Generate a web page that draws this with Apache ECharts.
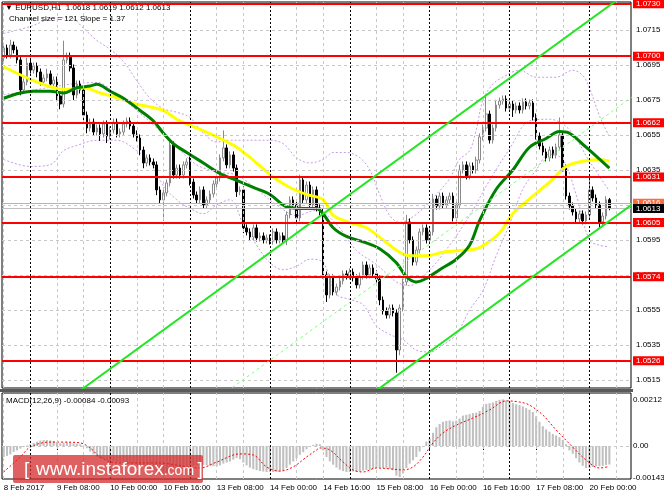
<!DOCTYPE html>
<html>
<head>
  <meta charset="UTF-8" />
  <title>EURUSD,H1</title>
  <script src="https://cdn.jsdelivr.net/npm/echarts@6/dist/echarts.min.js"></script>
  <style>
    html, body { margin: 0; padding: 0; background: #fff; }
    #chart { width: 664px; height: 498px; }
  </style>
</head>
<body>
  <div id="chart"></div>
  <script>
    const FONT = 'Liberation Sans, Arial, sans-serif';
    const SLOTS = 189;       // bar slots on the time axis (incl. right shift)
    const PIP = 0.0001;

    // time axis
    const tickIdx = [0, 16, 32, 48, 64, 80, 96, 112, 128, 144, 160, 176];
    const tickText = ['8 Feb 2017', '9 Feb 08:00', '10 Feb 00:00', '10 Feb 16:00', '13 Feb 08:00', '14 Feb 00:00',
                      '14 Feb 16:00', '15 Feb 08:00', '16 Feb 00:00', '16 Feb 16:00', '17 Feb 08:00', '20 Feb 00:00'];
    const daySepIdx = [8, 32, 56, 80, 104, 128, 152, 176];
    const gridIdx = [0, 16, 24, 40, 48, 64, 72, 88, 96, 112, 120, 136, 144, 160, 168, 184];

    // price axis
    const priceMin = 1.05104, priceMax = 1.07310;
    const priceTicks = [1.0515, 1.0535, 1.0555, 1.0575, 1.0595, 1.0615, 1.0635, 1.0655, 1.0675, 1.0695, 1.0715];
    const redLevels = [1.0730, 1.0700, 1.0662, 1.0631, 1.0605, 1.0574, 1.0526];
    const openLevel = 1.0616;
    const lastPrice = 1.0613;

    // H1 candles
    const opens = [
      1.06990, 1.07047, 1.07007, 1.07064, 1.07036, 1.06979, 1.06807, 1.06853, 1.06961, 1.06921,
      1.06944, 1.06910, 1.06853, 1.06876, 1.06899, 1.06841, 1.06864, 1.06773, 1.06727, 1.06979,
      1.07001, 1.06933, 1.06779, 1.06841, 1.06807, 1.06664, 1.06590, 1.06624, 1.06567, 1.06590,
      1.06556, 1.06613, 1.06544, 1.06579, 1.06624, 1.06556, 1.06567, 1.06613, 1.06630, 1.06601,
      1.06556, 1.06533, 1.06464, 1.06390, 1.06419, 1.06396, 1.06379, 1.06236, 1.06179, 1.06219,
      1.06276, 1.06493, 1.06321, 1.06361, 1.06321, 1.06379, 1.06396, 1.06281, 1.06207, 1.06179,
      1.06236, 1.06150, 1.06179, 1.06213, 1.06270, 1.06304, 1.06419, 1.06476, 1.06379, 1.06436,
      1.06361, 1.06226, 1.06236, 1.06019, 1.05996, 1.05967, 1.06019, 1.05961, 1.05973, 1.05950,
      1.05961, 1.05944, 1.05996, 1.05950, 1.05973, 1.05950, 1.06093, 1.06179, 1.06150, 1.06076,
      1.06293, 1.06179, 1.06264, 1.06150, 1.06236, 1.06133, 1.06110, 1.05750, 1.05636, 1.05733,
      1.05653, 1.05681, 1.05716, 1.05756, 1.05744, 1.05767, 1.05733, 1.05693, 1.05744, 1.05807,
      1.05750, 1.05790, 1.05756, 1.05727, 1.05607, 1.05544, 1.05521, 1.05561, 1.05533, 1.05321,
      1.05561, 1.05710, 1.06053, 1.05950, 1.05824, 1.05893, 1.05996, 1.06019, 1.05950, 1.05996,
      1.06184, 1.06144, 1.06201, 1.06150, 1.06179, 1.06201, 1.06076, 1.06150, 1.06350, 1.06379,
      1.06316, 1.06373, 1.06350, 1.06407, 1.06539, 1.06590, 1.06670, 1.06521, 1.06590, 1.06721,
      1.06744, 1.06756, 1.06704, 1.06727, 1.06693, 1.06716, 1.06693, 1.06739, 1.06716, 1.06733,
      1.06653, 1.06544, 1.06487, 1.06453, 1.06419, 1.06464, 1.06436, 1.06481, 1.06550, 1.06361,
      1.06201, 1.06144, 1.06110, 1.06070, 1.06099, 1.06059, 1.06093, 1.06236, 1.06190, 1.06150,
      1.06053, 1.06087, 1.06180
    ];
    const closes = [
      1.07047, 1.07007, 1.07064, 1.07036, 1.06979, 1.06807, 1.06853, 1.06961, 1.06921, 1.06944,
      1.06910, 1.06853, 1.06876, 1.06899, 1.06841, 1.06864, 1.06773, 1.06727, 1.06979, 1.07001,
      1.06933, 1.06779, 1.06841, 1.06807, 1.06664, 1.06590, 1.06624, 1.06567, 1.06590, 1.06556,
      1.06613, 1.06544, 1.06579, 1.06624, 1.06556, 1.06567, 1.06613, 1.06630, 1.06601, 1.06556,
      1.06533, 1.06464, 1.06390, 1.06419, 1.06396, 1.06379, 1.06236, 1.06179, 1.06219, 1.06276,
      1.06493, 1.06321, 1.06361, 1.06321, 1.06379, 1.06396, 1.06281, 1.06207, 1.06179, 1.06236,
      1.06150, 1.06179, 1.06213, 1.06270, 1.06304, 1.06419, 1.06476, 1.06379, 1.06436, 1.06361,
      1.06226, 1.06236, 1.06019, 1.05996, 1.05967, 1.06019, 1.05961, 1.05973, 1.05950, 1.05961,
      1.05944, 1.05996, 1.05950, 1.05973, 1.05950, 1.06093, 1.06179, 1.06150, 1.06076, 1.06293,
      1.06179, 1.06264, 1.06150, 1.06236, 1.06133, 1.06110, 1.05750, 1.05636, 1.05733, 1.05653,
      1.05681, 1.05716, 1.05756, 1.05744, 1.05767, 1.05733, 1.05693, 1.05744, 1.05807, 1.05750,
      1.05790, 1.05756, 1.05727, 1.05607, 1.05544, 1.05521, 1.05561, 1.05533, 1.05321, 1.05561,
      1.05710, 1.06053, 1.05950, 1.05824, 1.05893, 1.05996, 1.06019, 1.05950, 1.05996, 1.06184,
      1.06144, 1.06201, 1.06150, 1.06179, 1.06201, 1.06076, 1.06150, 1.06350, 1.06379, 1.06316,
      1.06373, 1.06350, 1.06407, 1.06539, 1.06590, 1.06670, 1.06521, 1.06590, 1.06721, 1.06744,
      1.06756, 1.06704, 1.06727, 1.06693, 1.06716, 1.06693, 1.06739, 1.06716, 1.06733, 1.06653,
      1.06544, 1.06487, 1.06453, 1.06419, 1.06464, 1.06436, 1.06481, 1.06550, 1.06361, 1.06201,
      1.06144, 1.06110, 1.06070, 1.06099, 1.06059, 1.06093, 1.06236, 1.06190, 1.06150, 1.06053,
      1.06087, 1.06180, 1.06130
    ];
    // wick lengths above/below the body, in pips
    const upperWick = [
      3,2,3,2,2,2,2,3,3,2, 2,2,2,3,2,2,2,2,11,2, 2,2,2,2,2,2,2,2,2,2, 2,2,2,2,2,2,2,2,2,2,
      2,2,2,2,2,2,2,2,2,2, 3,2,2,2,2,2,3,2,2,2, 2,2,2,2,2,2,10,2,2,2, 2,2,2,2,2,2,2,2,2,2,
      2,2,2,2,2,2,2,2,2,3, 2,2,2,2,2,2,2,2,2,2, 2,2,2,2,2,2,2,2,2,2, 2,2,2,2,2,2,2,2,2,2,
      2,4,2,2,2,2,2,2,2,3, 2,2,2,2,2,2,2,3,2,2, 2,2,2,2,2,10,2,2,3,2, 2,2,2,2,2,2,2,2,2,2,
      2,2,2,2,2,2,2,10,2,2, 2,2,2,2,2,2,7,2,2,2, 2,2,1
    ];
    const lowerWick = [
      2,2,2,2,2,3,2,2,2,2, 3,2,2,2,2,2,3,3,2,2, 2,3,2,2,3,3,2,2,2,4, 2,4,2,2,2,2,2,2,2,2,
      2,3,3,2,2,2,3,2,12,2, 2,2,2,2,2,2,2,2,2,2, 2,2,2,2,2,2,2,2,2,2, 3,2,3,2,2,2,2,2,2,2,
      2,2,2,2,2,3,2,2,3,2, 2,2,2,2,2,2,2,4,2,2, 2,2,2,2,2,2,2,2,2,2, 2,2,2,3,2,2,2,2,13,3,
      2,2,2,2,2,2,2,2,2,2, 2,2,2,2,2,2,2,2,2,2, 2,2,2,2,2,2,2,2,2,2, 2,2,2,4,2,2,2,2,2,2,
      2,2,2,2,2,2,2,2,2,2, 2,2,2,2,2,2,2,2,2,3, 2,2,1
    ];

    // indicators: [bar index, price]
    const maSlow = [[0,1.0694],[9,1.0686],[15,1.0682],[19,1.0681],[24,1.0682],[29,1.0679],[33,1.0677],[39,1.0673],
      [44,1.0671],[48,1.0669],[52,1.0664],[58,1.0659],[64,1.0654],[70,1.0648],[76,1.0639],[81,1.0631],[86,1.0625],
      [91,1.0621],[96,1.0618],[99,1.0609],[104,1.0605],[109,1.0602],[114,1.0595],[119,1.0588],[122,1.0586],
      [127,1.0586],[132,1.0588],[137,1.0589],[142,1.0590],[145,1.0593],[149,1.0599],[153,1.0610],[159,1.0620],
      [164,1.0628],[169,1.0637],[174,1.0640],[179,1.0641],[182,1.0640]];
    const maFast = [[0,1.0676],[5,1.0679],[9,1.0680],[14,1.0680],[18,1.0679],[22,1.0682],[26,1.0683],[28,1.0684],
      [32,1.0680],[36,1.0676],[41,1.0669],[45,1.0663],[48,1.0656],[51,1.0650],[55,1.0645],[60,1.0639],[65,1.0633],
      [70,1.0629],[75,1.0625],[80,1.0621],[85,1.0614],[90,1.0613],[94,1.0613],[96,1.0610],[99,1.0602],[103,1.0597],
      [108,1.0594],[113,1.0590],[118,1.0582],[121,1.0574],[124,1.0571],[127,1.0573],[131,1.0578],[136,1.0584],
      [140,1.0592],[143,1.0606],[148,1.0624],[153,1.0635],[158,1.0648],[163,1.0653],[167,1.0657],[170,1.0656],
      [175,1.0648],[182,1.0636]];
    const bandUpper = [[0,1.0713],[8,1.0717],[16,1.0722],[20,1.0722],[24,1.0716],[28,1.0709],[32,1.0704],[36,1.0697],
      [40,1.0686],[44,1.0676],[48,1.0670],[52,1.0668],[56,1.0665],[60,1.0656],[64,1.0651],[68,1.0652],[72,1.0652],
      [76,1.0652],[80,1.0652],[84,1.0650],[88,1.0642],[92,1.0639],[96,1.0641],[99,1.0645],[103,1.0645],[107,1.0642],
      [110,1.0635],[113,1.0621],[116,1.0609],[119,1.0605],[122,1.0607],[126,1.0613],[130,1.0621],[134,1.0630],
      [137,1.0641],[140,1.0646],[142,1.0658],[144,1.0675],[147,1.0684],[150,1.0688],[155,1.0692],[160,1.0688],
      [166,1.0688],[171,1.0692],[174,1.0689],[176,1.0682],[179,1.0666],[182,1.0654]];
    const bandMiddle = [[0,1.0678],[10,1.0681],[20,1.0684],[28,1.0685],[34,1.0678],[40,1.0669],[46,1.0659],[52,1.0648],
      [58,1.0638],[64,1.0634],[70,1.0632],[76,1.0624],[82,1.0615],[88,1.0609],[94,1.0612],[100,1.0604],[106,1.0589],
      [112,1.0581],[118,1.0571],[122,1.0569],[128,1.0578],[134,1.0592],[140,1.0609],[146,1.0629],[152,1.0647],
      [158,1.0663],[164,1.0664],[170,1.0658],[176,1.0640],[182,1.0623]];
    const bandLower = [[0,1.0641],[8,1.0637],[14,1.0638],[18,1.0646],[22,1.0649],[28,1.0652],[34,1.0652],[40,1.0646],
      [44,1.0640],[48,1.0626],[52,1.0618],[56,1.0613],[60,1.0610],[64,1.0615],[68,1.0618],[72,1.0604],[76,1.0592],
      [80,1.0582],[84,1.0578],[88,1.0580],[92,1.0584],[96,1.0582],[100,1.0564],[104,1.0561],[108,1.0558],[112,1.0546],
      [116,1.0541],[120,1.0538],[124,1.0532],[128,1.0531],[132,1.0535],[136,1.0541],[140,1.0555],[144,1.0566],
      [148,1.0586],[152,1.0604],[156,1.0624],[160,1.0635],[164,1.0644],[168,1.0641],[172,1.0621],[176,1.0595],
      [179,1.0592],[182,1.0591]];

    // regression channel (size 121, slope 1.37)
    const channelUpper = [[20, 1.05048], [189, 1.07386]];
    const channelMid = [[60, 1.04986], [189, 1.06770]];
    const channelLower = [[100, 1.04924], [189, 1.06155]];

    // MACD(12,26,9), values in 1e-5
    const macdHist = [
      -50,-45,-38,-27,-20,-12,-5,2,8,14, 20,25,27,27,25,22,18,12,15,18, 16,12,10,8,2,-10,-25,-38,-48,-55,
      -60,-64,-68,-70,-73,-75,-77,-78,-80,-82, -84,-88,-94,-100,-106,-112,-120,-127,-127,-122,
      -112,-108,-104,-100,-95,-92,-90,-90,-88,-86, -86,-88,-90,-92,-92,-88,-80,-75,-70,-62,
      -55,-60,-75,-88,-98,-105,-110,-114,-116,-118, -118,-118,-117,-116,-112,-100,-85,-70,-55,-40,
      -28,-15,-5,5,10,8,-20,-50,-70,-85, -98,-108,-114,-118,-118,-116,-118,-116,-112,-110,
      -108,-104,-100,-98,-100,-102,-104,-110,-135,-141, -125,-100,-80,-65,-50,-25,-5,20,35,60,
      85,100,110,114,116,112,115,125,138,142, 145,150,152,160,178,192,195,198,205,210,
      212,208,200,195,190,186,180,172,165,155, 135,110,90,75,65,55,48,40,28,8,
      -20,-35,-55,-75,-90,-100,-100,-95,-92,-92, -90,-86,-84
    ];
    const macdSignal = [[0,-118],[5,-50],[8,-5],[14,18],[17,18],[23,14],[26,-9],[29,-50],[34,-77],[46,-77],[59,-100],
      [64,-73],[71,-36],[75,-41],[79,-95],[83,-114],[87,-95],[91,-50],[94,-18],[95,-9],[98,-18],[102,-73],[105,-109],
      [108,-118],[112,-100],[117,-105],[120,-109],[123,-95],[126,-50],[129,14],[132,59],[136,95],[141,127],[146,164],
      [151,205],[155,200],[158,186],[162,141],[166,73],[171,-5],[175,-64],[179,-100],[182,-93]];
    const macdMarks = [0.00212, 0, -0.00143];

    const categories = [];
    for (let i = 0; i < SLOTS; i++) categories.push(String(i));

    const candles = closes.map((c, i) => {
      const o = opens[i];
      return [o, c, Math.min(o, c) - lowerWick[i] * PIP, Math.max(o, c) + upperWick[i] * PIP];
    });

    const gridLine = { color: '#c8c8c8', type: [3, 3], width: 1 };
    const sepLine = { color: '#000', type: [2, 2], width: 1 };
    const hiddenLine = { color: 'rgba(0,0,0,0)', width: 1 };
    const axisText = { show: true, position: 'end', distance: 5, color: '#000', fontSize: 8, fontFamily: FONT };
    const macdText = Object.assign({}, axisText, { distance: 2 });
    function boxLabel(bg) {
      return { show: true, position: 'end', distance: 2, color: '#fff', backgroundColor: bg,
               padding: [1, 5, 0, 3], fontSize: 8, fontFamily: FONT };
    }
    function verticals() {
      return gridIdx.map(i => ({ xAxis: i, lineStyle: gridLine, label: { show: false } }))
        .concat(daySepIdx.map(i => ({ xAxis: i, lineStyle: sepLine, label: { show: false } })));
    }

    const mainGridMarks = priceTicks.map(v => ({
      yAxis: v, lineStyle: gridLine, label: Object.assign({ formatter: v.toFixed(4) }, axisText)
    })).concat(verticals());

    const levelMarks = redLevels.map(v => ({
      yAxis: v, lineStyle: { color: '#ff0000', width: 2, type: 'solid' },
      label: Object.assign({ formatter: v.toFixed(4) }, boxLabel('#ff0000'))
    })).concat([
      { yAxis: openLevel, lineStyle: { color: '#ff9a7a', width: 1, type: 'solid' },
        label: Object.assign({ formatter: openLevel.toFixed(4) }, boxLabel('#ff6a3c')) },
      { yAxis: lastPrice, lineStyle: { color: '#c0c0c0', width: 1, type: 'solid' },
        label: Object.assign({ formatter: lastPrice.toFixed(4) }, boxLabel('#000000')) }
    ]);

    const macdGridMarks = verticals().concat(macdMarks.map(v => ({
      yAxis: v,
      lineStyle: v === 0 ? gridLine : hiddenLine,
      label: Object.assign({ formatter: v === 0 ? '0.00' : v.toFixed(5) }, macdText)
    })));

    function markLineOf(data) {
      return { silent: true, symbol: ['none', 'none'], animation: false, precision: 6, data: data };
    }
    function bandSeries(data) {
      return { type: 'line', xAxisIndex: 1, yAxisIndex: 0, data: data, smooth: 0.35, showSymbol: false, z: 2,
               silent: true, lineStyle: { color: '#c79be6', type: [2, 2], width: 1 } };
    }
    function overlay(data, color, width, type, z) {
      return { type: 'line', xAxisIndex: 1, yAxisIndex: 0, data: data, smooth: 0.35, showSymbol: false, z: z,
               silent: true, lineStyle: { color: color, width: width, type: type || 'solid' } };
    }

    const titleText = { fontSize: 8, fontWeight: 'normal', color: '#000', fontFamily: FONT };
    const chart = echarts.init(document.getElementById('chart'));
    chart.setOption({
      animation: false,
      backgroundColor: '#fff',
      title: [
        { text: '▼ EURUSD,H1  1.0618 1.0619 1.0612 1.0613', left: 5, top: 4, padding: 0, textStyle: titleText },
        { text: 'Channel size = 121 Slope = 1.37', left: 9, top: 15, padding: 0, textStyle: titleText },
        { text: 'MACD(12,26,9) -0.00084 -0.00093', left: 6, top: 397, padding: 0, textStyle: titleText }
      ],
      grid: [
        { left: 2, right: 33, top: 2, height: 386, show: true, borderColor: '#000', borderWidth: 1 },
        { left: 2, right: 33, top: 393, height: 86, show: true, borderColor: '#000', borderWidth: 1 }
      ],
      xAxis: [
        { type: 'category', gridIndex: 0, data: categories, boundaryGap: true,
          axisLine: { show: false }, axisTick: { show: false }, axisLabel: { show: false }, splitLine: { show: false } },
        { type: 'value', gridIndex: 0, min: -0.5, max: SLOTS - 0.5, show: false, splitLine: { show: false } },
        { type: 'category', gridIndex: 1, data: categories, boundaryGap: true,
          axisLine: { show: false },
          axisTick: { show: true, alignWithLabel: true, length: 4, interval: idx => tickIdx.includes(idx),
                      lineStyle: { color: '#000' } },
          axisLabel: { show: true, interval: idx => tickIdx.includes(idx), align: 'left', margin: 5,
                       fontSize: 8, color: '#000', fontFamily: FONT,
                       formatter: (v) => tickText[tickIdx.indexOf(Number(v))] || '' },
          splitLine: { show: false } },
        { type: 'value', gridIndex: 1, min: -0.5, max: SLOTS - 0.5, show: false, splitLine: { show: false } }
      ],
      yAxis: [
        { type: 'value', gridIndex: 0, min: priceMin, max: priceMax, position: 'right', scale: true,
          axisLine: { show: false }, axisTick: { show: false }, axisLabel: { show: false }, splitLine: { show: false } },
        { type: 'value', gridIndex: 1, min: -0.0015, max: 0.00241, position: 'right',
          axisLine: { show: false }, axisTick: { show: false }, axisLabel: { show: false }, splitLine: { show: false } }
      ],
      graphic: [
        { type: 'rect', shape: { x: 0, y: 389, width: 633, height: 3 }, style: { fill: '#5a5a5a' }, z: 10 },
        { type: 'rect', shape: { x: 13, y: 455, width: 190, height: 28, r: 2 },
          style: { fill: 'rgba(212,40,40,0.74)' }, z: 20 },
        { type: 'text', x: 24, y: 470, z: 21,
          style: { text: '{a|[}  {b|www.instaforex}{c|.com} {a|]}', verticalAlign: 'middle',
                   rich: { a: { fontSize: 19, fill: '#fff', fontFamily: FONT },
                           b: { fontSize: 19, fill: '#fff', fontFamily: FONT },
                           c: { fontSize: 14, fill: '#fff', fontFamily: FONT, padding: [3, 0, 0, 0] } } } }
      ],
      series: [
        { type: 'line', xAxisIndex: 0, yAxisIndex: 0, data: [], z: 1, silent: true, markLine: markLineOf(mainGridMarks) },
        bandSeries(bandUpper),
        bandSeries(bandMiddle),
        bandSeries(bandLower),
        { type: 'candlestick', xAxisIndex: 0, yAxisIndex: 0, data: candles, barWidth: '62%', z: 3, silent: true,
          itemStyle: { color: '#ffffff', color0: '#000000', borderColor: '#8a8a8a', borderColor0: '#000000',
                       borderWidth: 1 } },
        overlay(maSlow, '#ffff00', 3, 'solid', 4),
        overlay(maFast, '#008000', 3, 'solid', 4),
        overlay(channelMid, '#7dff7d', 1, [3, 3], 5),
        overlay(channelUpper, '#22e622', 2, 'solid', 5),
        overlay(channelLower, '#22e622', 2, 'solid', 5),
        { type: 'line', xAxisIndex: 0, yAxisIndex: 0, data: [], z: 6, silent: true, markLine: markLineOf(levelMarks) },

        { type: 'line', xAxisIndex: 2, yAxisIndex: 1, data: [], z: 1, silent: true, markLine: markLineOf(macdGridMarks) },
        { type: 'bar', xAxisIndex: 2, yAxisIndex: 1, data: macdHist.map(v => v / 100000), barWidth: '62%',
          z: 2, silent: true, itemStyle: { color: '#c0c0c0' } },
        { type: 'line', xAxisIndex: 3, yAxisIndex: 1, data: macdSignal.map(p => [p[0], p[1] / 100000]),
          smooth: 0.35, showSymbol: false, z: 3, silent: true,
          lineStyle: { color: '#ff0000', width: 1, type: [2, 2] } }
      ]
    });
  </script>
</body>
</html>
